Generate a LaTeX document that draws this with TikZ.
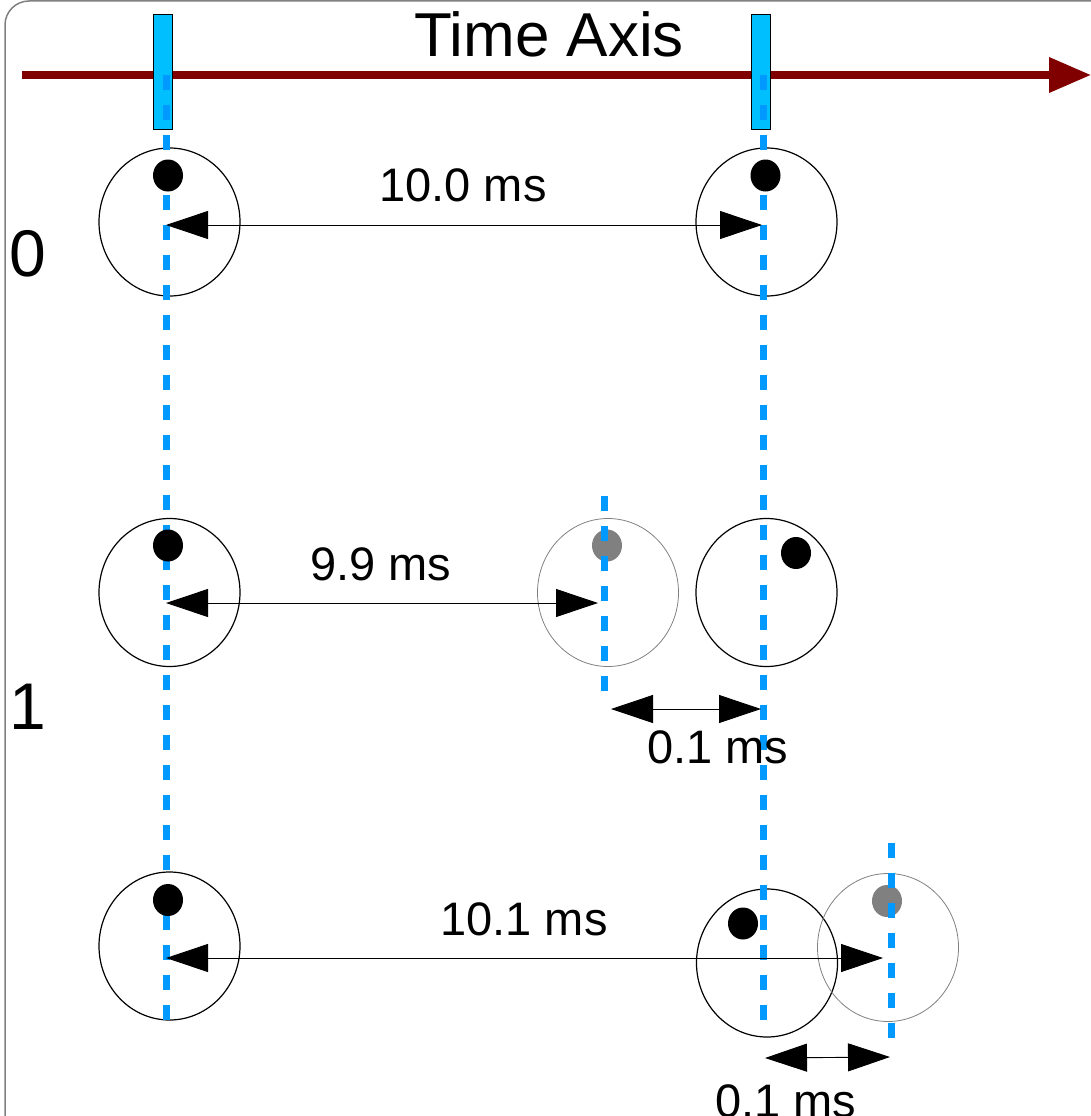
\documentclass[tikz,border=0pt]{standalone}
\usepackage{fontspec}
\setmainfont{Liberation Sans}
\usetikzlibrary{arrows.meta,shapes.geometric}
\definecolor{axisred}{RGB}{128,0,0}
\definecolor{markblue}{RGB}{0,191,255}
\definecolor{guideblue}{RGB}{0,153,255}
\definecolor{ghost}{RGB}{128,128,128}

\begin{document}
\begin{tikzpicture}[x=1pt,y=-1pt,
  wheel/.style={ellipse, draw=black, line width=1.2pt, minimum width=141pt, minimum height=148pt, inner sep=0pt},
  ghostwheel/.style={wheel, draw=ghost, line width=0.8pt},
  pin/.style={ellipse, fill=black, minimum width=30pt, minimum height=32pt, inner sep=0pt},
  ghostpin/.style={pin, fill=ghost},
  tickbox/.style={rectangle, draw=black, fill=markblue, line width=0.8pt, minimum width=19pt, minimum height=115pt, inner sep=0pt},
  guide/.style={draw=guideblue, line width=7pt, dash pattern=on 15pt off 15pt},
  span/.style={{Triangle[length=42pt,width=28pt]}-{Triangle[length=42pt,width=28pt]}, line width=0.9pt},
  lbl/.style={font=\fontsize{47}{50}\selectfont, inner sep=0pt, anchor=base},
  rowlbl/.style={font=\fontsize{66}{70}\selectfont, inner sep=0pt, anchor=base west},
]
\useasboundingbox (0,0) rectangle (1091,1116);

% frame
\draw[ghost, line width=1.5pt, rounded corners=24pt] (5,1) rectangle (1250,1250);

% time axis
\coordinate (axstart) at (22,75);
\coordinate (axend) at (1091,75);
\draw[axisred, line width=7pt, -{Triangle[length=42pt,width=34pt]}] (axstart) -- (axend);
\node[font=\fontsize{62}{66}\selectfont, anchor=base, inner sep=0pt] (title) at (549,57) {Time Axis};

% period markers
\node[tickbox] (tickA) at (163,71.5) {};
\node[tickbox] (tickB) at (760.5,71.5) {};

% row labels
\node[rowlbl] (row0) at (9,276) {0};
\node[rowlbl] (row1) at (9,729) {1};

% wheels
\node[wheel] (wA0) at (169.5,222) {};
\node[wheel] (wB0) at (766.5,222) {};
\node[wheel] (wA1) at (169.5,592.5) {};
\node[ghostwheel] (wG1) at (608,592.5) {};
\node[wheel] (wB1) at (766.5,592.5) {};
\node[wheel] (wA2) at (169.5,946) {};
\node[wheel] (wB2) at (767,963) {};
\node[ghostwheel] (wG2) at (888,947.5) {};

% shifted positions (under the guides)
\node[ghostpin] (pG1) at (607,545.5) {};
\node[ghostpin] (pG2) at (887,901) {};

% guides
\coordinate (gA0) at (166,75);  \coordinate (gA1) at (166,1031);
\coordinate (gB0) at (763,75);  \coordinate (gB1) at (763,1034);
\coordinate (gC0) at (604,496); \coordinate (gC1) at (604,693);
\coordinate (gD0) at (891,843); \coordinate (gD1) at (891,1040);
\draw[guide] (gA0) -- (gA1);
\draw[guide] (gB0) -- (gB1);
\draw[guide] (gC0) -- (gC1);
\draw[guide] (gD0) -- (gD1);

% pins
\node[pin] (pA0) at (168,175.5) {};
\node[pin] (pB0) at (765.5,175.5) {};
\node[pin] (pA1) at (168,545.5) {};
\node[pin] (pB1) at (796,553) {};
\node[pin] (pA2) at (168,900) {};
\node[pin] (pB2) at (743,923.5) {};

% intervals
\coordinate (s0a) at (166,225);  \coordinate (s0b) at (762,225);
\coordinate (s1a) at (166,603);  \coordinate (s1b) at (598,603);
\coordinate (d1a) at (611,709);  \coordinate (d1b) at (761,709);
\coordinate (s2a) at (166,958);  \coordinate (s2b) at (883,958);
\coordinate (d2a) at (765,1058); \coordinate (d2b) at (890,1057);
\draw[span] (s0a) -- (s0b);
\draw[span] (s1a) -- (s1b);
\draw[span] (d1a) -- (d1b);
\draw[span] (s2a) -- (s2b);
\draw[span] (d2a) -- (d2b);

\node[lbl] (t0) at (463,201) {10.0 ms};
\node[lbl] (t1) at (381,580) {9.9 ms};
\node[lbl] (t1d) at (718,763) {0.1 ms};
\node[lbl] (t2) at (524,935) {10.1 ms};
\node[lbl] (t2d) at (786,1117) {0.1 ms};
\end{tikzpicture}
\end{document}
